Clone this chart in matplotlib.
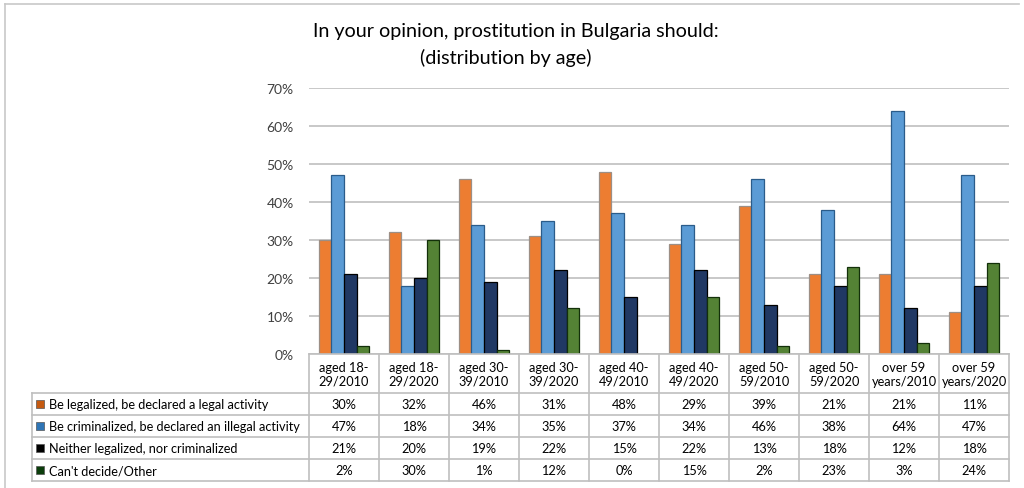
import matplotlib.pyplot as plt
import numpy as np
from matplotlib.lines import Line2D

plt.rcParams['font.family'] = ['Lato', 'DejaVu Sans']

# Survey answers by age group and year, in percent
groups = ['aged 18-\n29/2010', 'aged 18-\n29/2020', 'aged 30-\n39/2010', 'aged 30-\n39/2020',
          'aged 40-\n49/2010', 'aged 40-\n49/2020', 'aged 50-\n59/2010', 'aged 50-\n59/2020',
          'over 59\nyears/2010', 'over 59\nyears/2020']
legalized = [30, 32, 46, 31, 48, 29, 39, 21, 21, 11]
criminalized = [47, 18, 34, 35, 37, 34, 46, 38, 64, 47]
neither = [21, 20, 19, 22, 15, 22, 13, 18, 12, 18]
cant_decide = [2, 30, 1, 12, 0, 15, 2, 23, 3, 24]
series_names = ['Be legalized, be declared a legal activity',
                'Be criminalized, be declared an illegal activity',
                'Neither legalized, nor criminalized',
                "Can't decide/Other"]

series = [legalized, criminalized, neither, cant_decide]
fills = ['#ED7D31', '#5B9BD5', '#203864', '#548235']
edges = ['#9C8F86', '#2B5C8A', '#000000', '#13300A']
keys = ['#C55A11', '#2E75B6', '#000000', '#0B3D0B']

W, H = 1024, 489
fig = plt.figure(figsize=(W / 100, H / 100), dpi=100)

# outer frame lines
fig.add_artist(Line2D([5 / W, 1019 / W], [1 - 5 / H, 1 - 5 / H], color='#C8C8C8', lw=1.2))
fig.add_artist(Line2D([5 / W, 5 / W], [1 - 5 / H, 0], color='#C8C8C8', lw=1.2))

fig.text(516 / W, 1 - 31 / H, 'In your opinion, prostitution in Bulgaria should:',
         ha='center', va='center', fontsize=14.2)
fig.text(506 / W, 1 - 58 / H, '(distribution by age)', ha='center', va='center', fontsize=14.2)

# bar chart
ax = fig.add_axes([309 / W, 1 - 355 / H, 700 / W, 266 / H])
x = np.arange(len(groups))
width = 0.18
for k, vals in enumerate(series):
    ax.bar(x + (k - 1.5) * width, vals, width, color=fills[k], edgecolor=edges[k],
           linewidth=0.9, zorder=3)
ax.set_xlim(-0.5, len(groups) - 0.5)
ax.set_ylim(0, 70)
ax.set_yticks(range(0, 71, 10))
ax.set_yticklabels([f'{v}%' for v in range(0, 71, 10)], color='#404040', fontsize=10)
ax.set_xticks([])
ax.yaxis.grid(True, color='#BFBFBF', lw=1.2, zorder=0)
ax.tick_params(axis='y', length=0, pad=11)
for s in ax.spines.values():
    s.set_visible(False)

# data table below the bars
left_px, right_px, top_px, bottom_px = 32, 1009, 355, 482
tax = fig.add_axes([left_px / W, 1 - bottom_px / H, (right_px - left_px) / W,
                    (bottom_px - top_px) / H])
col_w = 70
lab_left = -0.5 - (309 - left_px) / col_w
tax.set_xlim(lab_left, len(groups) - 0.5)
head_h, row_h = 39, 21.9
tot_h = head_h + row_h * len(series)
tax.set_ylim(tot_h, 0)
tax.axis('off')

grid_c = '#BFBFBF'
tfs = 9.2
tax.plot([-0.5, len(groups) - 0.5], [0, 0], color=grid_c, lw=1.2, clip_on=False)
for r in range(len(series) + 1):
    yy = head_h + r * row_h
    tax.plot([lab_left, len(groups) - 0.5], [yy, yy], color=grid_c, lw=1.2, clip_on=False)
for i in range(len(groups) + 1):
    tax.plot([i - 0.5, i - 0.5], [0, tot_h], color=grid_c, lw=1.2, clip_on=False)
tax.plot([lab_left, lab_left], [head_h, tot_h], color=grid_c, lw=1.2, clip_on=False)

for i, g in enumerate(groups):
    tax.text(i, head_h / 2, g, ha='center', va='center', fontsize=tfs, linespacing=1.2)

for k, vals in enumerate(series):
    yc = head_h + (k + 0.5) * row_h
    tax.plot([lab_left + 0.12], [yc], marker='s', markersize=6, color=keys[k],
             markeredgecolor='#555555', markeredgewidth=0.5, clip_on=False)
    tax.text(lab_left + 0.24, yc, series_names[k], ha='left', va='center', fontsize=tfs)
    for i, v in enumerate(vals):
        tax.text(i, yc, f'{v}%', ha='center', va='center', fontsize=tfs)

fig.savefig('out.png', dpi=100)
